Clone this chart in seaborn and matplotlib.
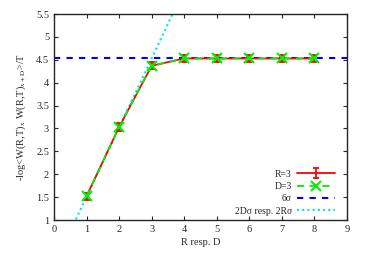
import numpy as np
import pandas as pd
import matplotlib
matplotlib.use('Agg')
import matplotlib.pyplot as plt
import seaborn as sns

# Datos
dist = [1, 2, 3, 4, 5, 6, 7, 8]
pot_R = [1.52, 3.03, 4.37, 4.53, 4.53, 4.53, 4.53, 4.53]
err_R = [0.08, 0.08, 0.08, 0.08, 0.08, 0.08, 0.08, 0.08]
pot_D = [1.52, 3.03, 4.37, 4.53, 4.53, 4.53, 4.53, 4.53]
sigma = 0.755
x_lin = [0, 9]

sns.set_style('ticks')
plt.rcParams['font.family'] = ['Liberation Serif', 'DejaVu Serif']
plt.rcParams['mathtext.fontset'] = 'stix'

fig = plt.figure(figsize=(3.66, 2.56), dpi=100)
ax = fig.add_axes([0.1475, 0.1406, 0.8005, 0.8044])

df_D = pd.DataFrame({'x': dist, 'y': pot_D})
df_6s = pd.DataFrame({'x': x_lin, 'y': [6 * sigma] * 2})
df_2s = pd.DataFrame({'x': x_lin, 'y': [2 * sigma * v for v in x_lin]})

ax.errorbar(dist, pot_R, yerr=err_R, color='#ff0000', lw=1.3,
            capsize=2.5, elinewidth=1.3, capthick=1.3, label='R=3', zorder=3)
sns.lineplot(data=df_D, x='x', y='y', ax=ax, color='#00ee00', lw=1.3,
             marker='x', ms=7, mew=1.5, mec='#00ee00', linestyle=(0, (4, 3)),
             label='D=3', zorder=4)
sns.lineplot(data=df_6s, x='x', y='y', ax=ax, color='#0000ff', lw=1.5,
             linestyle=(0, (3, 3)), label='6σ', zorder=2)
sns.lineplot(data=df_2s, x='x', y='y', ax=ax, color='#00e5ee', lw=1.5,
             linestyle=(0, (1, 1.5)), label='2Dσ resp. 2Rσ', zorder=1)

ax.set_xlim(0, 9)
ax.set_ylim(1, 5.5)
ax.set_xticks(range(0, 10))
ax.set_yticks(np.arange(1, 5.51, 0.5))
ax.set_yticklabels(['1', '1.5', '2', '2.5', '3', '3.5', '4', '4.5', '5', '5.5'])
ax.tick_params(direction='in', top=True, right=True, labelsize=7.5, length=3, width=0.8)
for s in ax.spines.values():
    s.set_linewidth(1.0)
    s.set_visible(True)
ax.set_xlabel('R resp. D', fontsize=7.5, labelpad=3)
ax.set_ylabel(r'-log<W(R,T)$_{\mathrm{x}}$ W(R,T)$_{\mathrm{x+D}}$>/T', fontsize=7.5, labelpad=6)

handles, labels = ax.get_legend_handles_labels()
orden = ['R=3', 'D=3', '6σ', '2Dσ resp. 2Rσ']
hmap = dict(zip(labels, handles))
ax.legend([hmap[k] for k in orden], orden, loc='lower right', bbox_to_anchor=(0.958, 0.02),
          frameon=False, markerfirst=False, fontsize=7, handlelength=3.9,
          labelspacing=0.35, borderaxespad=0, borderpad=0, handletextpad=0.5)

fig.savefig('out.png', dpi=100)
